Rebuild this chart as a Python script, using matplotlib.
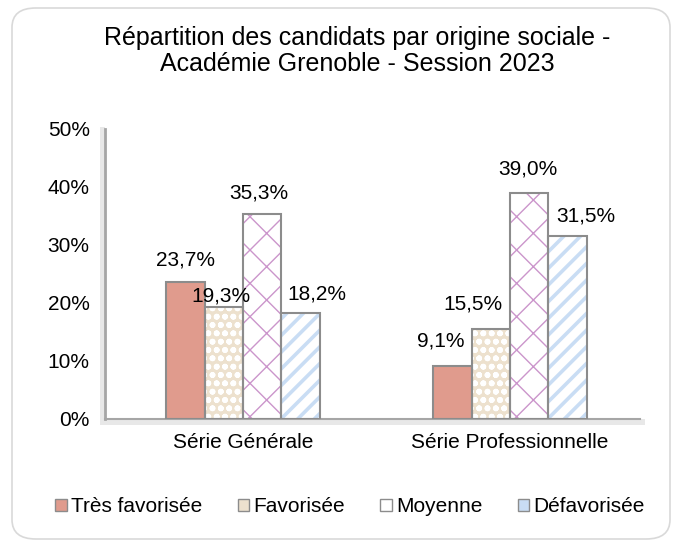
import matplotlib
matplotlib.use("Agg")
import matplotlib.pyplot as plt
import numpy as np
from matplotlib.patches import FancyBboxPatch, Rectangle, Patch

plt.rcParams['font.family'] = ['Liberation Sans', 'DejaVu Sans']

categories = ["Série Générale", "Série Professionnelle"]
series_names = ["Très favorisée", "Favorisée", "Moyenne", "Défavorisée"]
tres_favorisee = [23.7, 9.1]
favorisee = [19.3, 15.5]
moyenne = [35.3, 39.0]
defavorisee = [18.2, 31.5]
yticks = [0, 10, 20, 30, 40, 50]
title = "Répartition des candidats par origine sociale -\nAcadémie Grenoble - Session 2023"

series = [tres_favorisee, favorisee, moyenne, defavorisee]
# style: (facecolor, hatch, hatchcolor, hatch linewidth, legend face)
styles = [
    ("#E09B8D", None, "#E09B8D", 1.0, "#E09B8D"),
    ("#EDE1CE", "oo", "white", 1.8, "#EDE1CE"),
    ("white", "x", "#CB95CB", 1.0, "white"),
    ("white", "//", "#C9DDF4", 2.6, "#C9DDF4"),
]
# label placement tweaks in pixels (dx, gap above bar) per series, per category
label_dx = [[0, -12], [-3, -18], [-3, -1], [16, 18]]
label_gap = [[12, 16], [2, 16], [12, 14], [10, 11]]

W, H = 681, 552
fig = plt.figure(figsize=(W / 100, H / 100), dpi=100)

# outer rounded border
border = FancyBboxPatch((12 / W, 13 / H), 658 / W, 531 / H,
                        boxstyle="round,pad=0,rounding_size=0.035",
                        transform=fig.transFigure, facecolor="white",
                        edgecolor="#D9D9D9", linewidth=1.2, zorder=-2)
fig.patches.append(border)

# 3D-like wall and floor shading
fig.patches.append(Rectangle((100 / W, 1 - 425 / H), 5 / W, (425 - 127) / H,
                             transform=fig.transFigure, facecolor="#E8E8E8",
                             edgecolor="none", zorder=-1))
fig.patches.append(Rectangle((100 / W, 1 - 425 / H), (645 - 100) / W, 6 / H,
                             transform=fig.transFigure, facecolor="#E8E8E8",
                             edgecolor="none", zorder=-1))

ax = fig.add_axes([105 / W, 1 - 419 / H, (640 - 105) / W, (419 - 129) / H])
ax.set_facecolor("none")

x = np.arange(len(categories))
w = 0.144
offsets = [-1.5, -0.5, 0.5, 1.5]
for si, (vals, (fc, hatch, hc, hlw, lf), off) in enumerate(zip(series, styles, offsets)):
    with plt.rc_context({'hatch.linewidth': hlw}):
        bars = ax.bar(x + off * w, vals, w, facecolor=fc, edgecolor=hc,
                      hatch=hatch, linewidth=0, zorder=2)
        for b in bars:
            if hasattr(b, "set_hatch_linewidth"):
                b.set_hatch_linewidth(hlw)
    ax.bar(x + off * w, vals, w, facecolor="none", edgecolor="#8C8C8C",
           linewidth=1.5, zorder=3)
    for ci, (xi, v) in enumerate(zip(x + off * w, vals)):
        ax.annotate(f"{v:.1f}%".replace(".", ","), (xi, v),
                    xytext=(label_dx[si][ci] * 0.72, label_gap[si][ci] * 0.72),
                    textcoords="offset points", ha="center", va="bottom",
                    fontsize=15, zorder=4)

ax.set_xlim(-0.517, 1.487)
ax.set_ylim(0, 50)
ax.set_yticks(yticks)
ax.set_yticklabels([f"{t}%" for t in yticks], fontsize=15)
ax.set_xticks(x)
ax.set_xticklabels(categories, fontsize=15)
ax.tick_params(axis="y", length=0, pad=11)
ax.tick_params(axis="x", length=0, pad=10)
for s in ["top", "right"]:
    ax.spines[s].set_visible(False)
ax.spines["left"].set_color("#A6A6A6")
ax.spines["left"].set_linewidth(2)
ax.spines["bottom"].set_color("#A6A6A6")
ax.spines["bottom"].set_linewidth(1.5)

fig.text(357 / W, 1 - 51 / H, title, ha="center", va="center",
         fontsize=18, linespacing=1.15)

handles = [Patch(facecolor=s[4], edgecolor="#8C8C8C", linewidth=1.0)
           for s in styles]
fig.legend(handles, series_names, loc="center", bbox_to_anchor=(350 / W, 1 - 507 / H),
           ncol=4, frameon=False, fontsize=15, handlelength=0.55,
           handleheight=0.55, handletextpad=0.2, columnspacing=1.7)

fig.savefig("out.png", dpi=100)
